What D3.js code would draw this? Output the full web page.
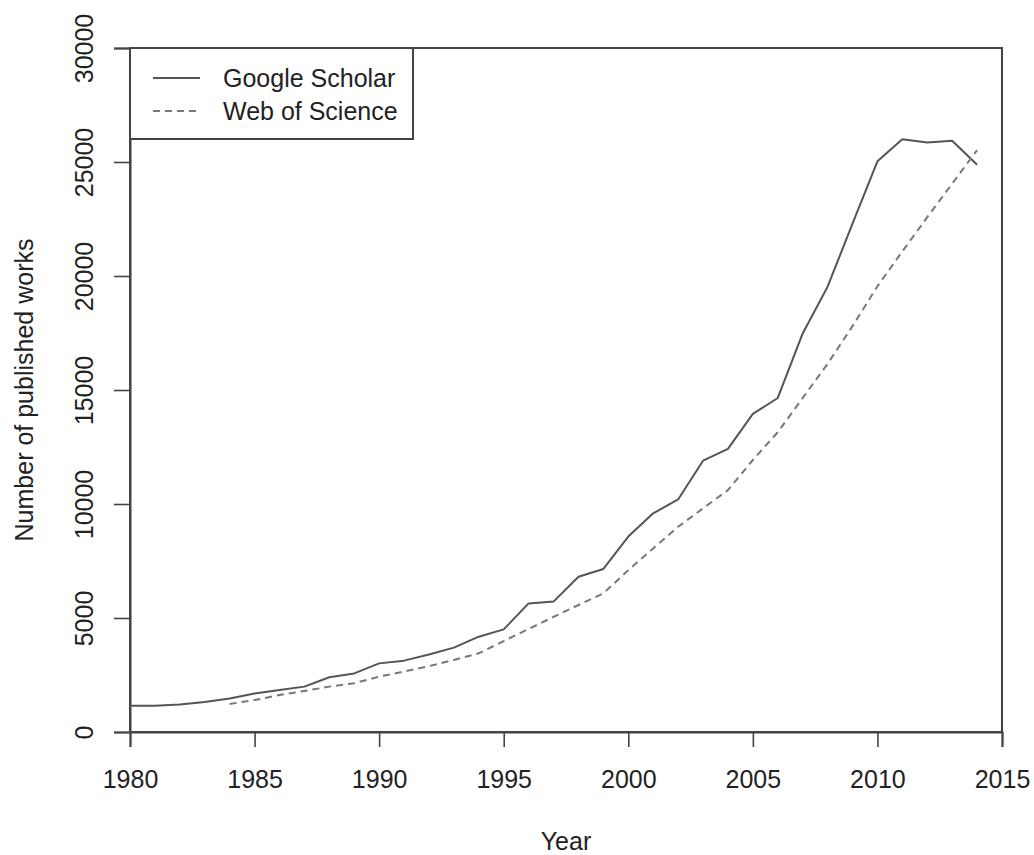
<!DOCTYPE html>
<html>
<head>
<meta charset="utf-8">
<script src="https://cdn.jsdelivr.net/npm/d3@7"></script>
<style>
  html, body { margin: 0; padding: 0; background: #fff; }
  text { font-family: "Liberation Sans", Arial, sans-serif; fill: #222; }
</style>
</head>
<body>
<svg id="chart" width="1034" height="855"></svg>
<script>
// ---- data ----
const years = [1980,1981,1982,1983,1984,1985,1986,1987,1988,1989,1990,1991,1992,1993,1994,1995,1996,1997,1998,1999,2000,2001,2002,2003,2004,2005,2006,2007,2008,2009,2010,2011,2012,2013,2014];
const googleScholar = [1150,1150,1210,1320,1470,1690,1840,1990,2400,2570,3010,3130,3400,3700,4180,4500,5640,5720,6810,7150,8570,9590,10200,11900,12420,13950,14650,17480,19530,22300,25030,26000,25860,25930,24880];
const wosYears = [1984,1985,1986,1987,1988,1989,1990,1991,1992,1993,1994,1995,1996,1997,1998,1999,2000,2001,2002,2003,2004,2005,2006,2007,2008,2009,2010,2011,2012,2013,2014];
const webOfScience = [1230,1400,1620,1800,1990,2140,2430,2650,2890,3160,3450,3990,4520,5050,5570,6080,7100,8050,9000,9810,10610,11930,13150,14650,16150,17800,19550,21080,22580,24050,25520];
const xTicks = [1980,1985,1990,1995,2000,2005,2010,2015];
const yTicks = [0,5000,10000,15000,20000,25000,30000];
const seriesNames = ["Google Scholar", "Web of Science"];

// ---- layout ----
const svg = d3.select("#chart");
const L = 130, R = 1002, T = 48, B = 732;
const x = d3.scaleLinear().domain([1980, 2015]).range([L, R]);
const y = d3.scaleLinear().domain([0, 30000]).range([B, T]);
const axisColor = "#444";

// box
svg.append("rect").attr("x", L).attr("y", T).attr("width", R - L).attr("height", B - T)
  .attr("fill", "none").attr("stroke", axisColor).attr("stroke-width", 2);

// x axis
const xAxis = svg.append("g").attr("transform", `translate(0,${B})`)
  .call(d3.axisBottom(x).tickValues(xTicks).tickFormat(d3.format("d")).tickSize(15).tickPadding(23));
xAxis.select(".domain").attr("stroke", axisColor).attr("stroke-width", 2);
xAxis.selectAll(".tick line").attr("stroke", axisColor).attr("stroke-width", 1.6);
xAxis.selectAll(".tick text").attr("font-size", 25).attr("font-family", "Liberation Sans, Arial, sans-serif").attr("fill", "#222");

// y axis
const yAxis = svg.append("g").attr("transform", `translate(${L},0)`)
  .call(d3.axisLeft(y).tickValues(yTicks).tickFormat(d3.format("d")).tickSize(16));
yAxis.select(".domain").attr("stroke", axisColor).attr("stroke-width", 2);
yAxis.selectAll(".tick line").attr("stroke", axisColor).attr("stroke-width", 1.6);
yAxis.selectAll(".tick text")
  .attr("font-size", 25).attr("font-family", "Liberation Sans, Arial, sans-serif").attr("fill", "#222")
  .attr("x", null).attr("dy", null)
  .attr("text-anchor", "middle")
  .attr("transform", "translate(-37,0) rotate(-90)");

// lines
const lineGS = d3.line().x((d, i) => x(years[i])).y(d => y(d));
const lineWoS = d3.line().x((d, i) => x(wosYears[i])).y(d => y(d));
svg.append("path").datum(googleScholar).attr("d", lineGS)
  .attr("fill", "none").attr("stroke", "#555").attr("stroke-width", 2).attr("stroke-linejoin", "round");
svg.append("path").datum(webOfScience).attr("d", lineWoS)
  .attr("fill", "none").attr("stroke", "#777").attr("stroke-width", 2).attr("stroke-dasharray", "7,5");

// axis titles
svg.append("text").attr("x", (L + R) / 2).attr("y", 850).attr("text-anchor", "middle")
  .attr("font-size", 25).text("Year");
svg.append("text").attr("transform", `translate(33,${(T + B) / 2}) rotate(-90)`).attr("text-anchor", "middle")
  .attr("font-size", 25).text("Number of published works");

// legend
const lg = svg.append("g");
lg.append("rect").attr("x", L).attr("y", T).attr("width", 283).attr("height", 91)
  .attr("fill", "#fff").attr("stroke", axisColor).attr("stroke-width", 2);
const legendItems = [
  { name: seriesNames[0], color: "#555", dash: null, y: 78 },
  { name: seriesNames[1], color: "#777", dash: "7,5", y: 111 }
];
legendItems.forEach(it => {
  lg.append("line").attr("x1", 153).attr("x2", 200).attr("y1", it.y).attr("y2", it.y)
    .attr("stroke", it.color).attr("stroke-width", 2).attr("stroke-dasharray", it.dash);
  lg.append("text").attr("x", 223).attr("y", it.y + 9).attr("font-size", 25).text(it.name);
});
</script>
</body>
</html>
